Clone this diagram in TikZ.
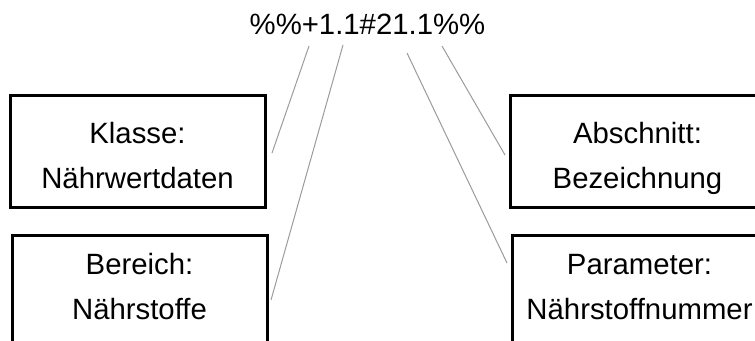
\documentclass[tikz,border=0pt]{standalone}
\usepackage{fontspec}
\setmainfont{Liberation Sans}
\usetikzlibrary{positioning}
\definecolor{leitgrau}{HTML}{9B9B9B}

\begin{document}
\begin{tikzpicture}[x=0.75pt, y=-0.75pt,
    every node/.style={font=\fontsize{22pt}{33.75pt}\selectfont, align=center},
    feld/.style={draw=black, line width=2.25pt, minimum width=191.25pt,
                 inner xsep=0pt, inner ysep=0pt, anchor=base},
    oben/.style={feld, text height=69.75pt, text depth=14.25pt},
    unten/.style={feld, text height=63pt, text depth=110pt},
    leit/.style={draw=leitgrau, line width=0.75pt}
  ]
  \clip (0,0) rectangle (755,340);

  % ---- Kennung oben ------------------------------------------------------
  \node[anchor=base, inner sep=0pt] (kennung) at (367.5,34) {\%\%+1.1\#21.1\%\%};

  % ---- die vier Felder (Grundlinie = letzte Zeile) -----------------------
  \node[oben]  (klasse)    at (137.5,188) {Klasse:\\Nährwertdaten};
  \node[unten] (bereich)   at (139.5,319) {Bereich:\\Nährstoffe};
  \node[oben]  (abschnitt) at (637.5,188) {Abschnitt:\\Bezeichnung};
  \node[unten] (parameter) at (639.5,319) {Parameter:\\Nährstoffnummer};

  % ---- Hinweislinien (enden frei neben den Feldern) ---------------------
  \coordinate (k1) at (309,46);  \coordinate (f1) at (272,153);
  \coordinate (k2) at (343,45);  \coordinate (f2) at (271,300);
  \coordinate (k3) at (407,53);  \coordinate (f3) at (507,263);
  \coordinate (k4) at (442,46);  \coordinate (f4) at (505,155);
  \draw[leit] (k1) -- (f1);
  \draw[leit] (k2) -- (f2);
  \draw[leit] (k3) -- (f3);
  \draw[leit] (k4) -- (f4);

\end{tikzpicture}
\end{document}
